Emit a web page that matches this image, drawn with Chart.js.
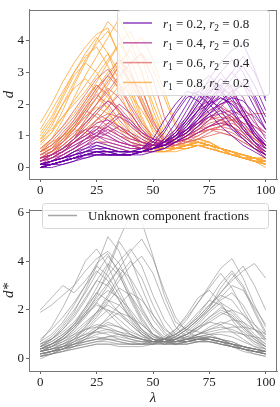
<!DOCTYPE html>
<html>
<head>
<meta charset="utf-8">
<script src="https://cdn.jsdelivr.net/npm/chart.js@4.4.0/dist/chart.umd.min.js"></script>
<style>
    html, body { margin: 0; padding: 0; background: #fff; }
    #wrap { position: relative; width: 280px; height: 407px; }
    canvas { position: absolute; left: 0; }
    #top { top: 0; }
    #bottom { top: 200px; }
</style>
</head>
<body>
<div id="wrap">
    <canvas id="top" width="280" height="200"></canvas>
    <canvas id="bottom" width="280" height="207"></canvas>
</div>
<script>
// Wavelength grid (lambda) shared by all curves
const lambdas = [0, 5, 10, 15, 20, 25, 30, 35, 40, 45, 50, 55, 60, 65, 70, 75, 80, 85, 90, 95, 100];
const xTicks = [0, 25, 50, 75, 100];
const yTicksTop = [0, 1, 2, 3, 4];
const yTicksBottom = [0, 2, 4, 6];

// Known mixing fractions
const r1Values = [0.2, 0.4, 0.6, 0.8];
const r2Values = [0.8, 0.6, 0.4, 0.2];
const seriesColors = ['106,0,168', '177,42,144', '225,100,98', '252,166,54'];

// r1 = 0.2, r2 = 0.8
const curvesR02 = [
    [0.0, 0.1, 0.2, 0.3, 0.4, 0.5, 0.5, 0.4, 0.4, 0.5, 0.6, 0.8, 1.1, 1.6, 2.2, 2.8, 3.3, 3.7, 3.9, 3.1, 2.1],
    [0.1, 0.1, 0.2, 0.3, 0.5, 0.6, 0.5, 0.5, 0.5, 0.5, 0.6, 0.9, 1.4, 2.0, 2.6, 2.9, 2.5, 1.9, 1.3, 0.8, 0.5],
    [0.0, 0.1, 0.2, 0.4, 0.6, 0.7, 0.6, 0.5, 0.5, 0.5, 0.6, 0.7, 0.9, 1.2, 1.6, 2.1, 2.6, 3.0, 2.6, 1.9, 1.2],
    [0.1, 0.2, 0.3, 0.4, 0.5, 0.5, 0.4, 0.4, 0.4, 0.5, 0.7, 1.1, 1.7, 2.2, 2.4, 2.2, 1.8, 1.3, 0.9, 0.6, 0.4],
    [0.0, 0.1, 0.1, 0.2, 0.4, 0.5, 0.5, 0.4, 0.4, 0.5, 0.5, 0.6, 0.8, 1.0, 1.3, 1.7, 2.1, 2.4, 2.6, 2.3, 1.6],
    [0.1, 0.2, 0.3, 0.5, 0.6, 0.8, 0.7, 0.6, 0.5, 0.5, 0.6, 0.7, 0.9, 1.3, 1.8, 2.3, 2.8, 2.5, 1.8, 1.2, 0.8],
    [0.0, 0.1, 0.2, 0.3, 0.4, 0.4, 0.4, 0.4, 0.4, 0.5, 0.6, 0.8, 1.0, 1.4, 1.8, 2.0, 2.2, 2.0, 1.6, 1.1, 0.7],
    [0.1, 0.1, 0.2, 0.3, 0.4, 0.5, 0.5, 0.5, 0.5, 0.6, 0.8, 1.2, 1.8, 2.3, 2.1, 1.7, 1.3, 1.0, 0.7, 0.5, 0.3],
    [0.0, 0.1, 0.2, 0.3, 0.3, 0.4, 0.4, 0.4, 0.4, 0.5, 0.6, 0.7, 0.9, 1.2, 1.5, 1.9, 2.3, 2.8, 3.2, 2.6, 1.8],
    [0.1, 0.2, 0.3, 0.4, 0.5, 0.6, 0.6, 0.5, 0.5, 0.6, 0.9, 1.5, 2.0, 2.4, 2.3, 2.0, 1.6, 1.2, 0.9, 0.6, 0.4],
    [0.0, 0.1, 0.2, 0.3, 0.4, 0.5, 0.4, 0.4, 0.4, 0.5, 0.6, 0.7, 1.0, 1.5, 2.0, 2.5, 3.0, 3.4, 3.0, 2.2, 1.4],
    [0.1, 0.1, 0.2, 0.3, 0.4, 0.5, 0.5, 0.4, 0.5, 0.5, 0.6, 0.8, 1.2, 1.8, 2.4, 2.7, 2.4, 1.8, 1.2, 0.8, 0.6],
    [0.0, 0.0, 0.1, 0.2, 0.3, 0.4, 0.4, 0.4, 0.4, 0.5, 0.6, 0.7, 0.9, 1.1, 1.4, 1.7, 2.0, 2.2, 2.1, 1.7, 1.2],
    [0.1, 0.2, 0.3, 0.4, 0.5, 0.7, 0.6, 0.5, 0.5, 0.5, 0.6, 0.8, 1.1, 1.5, 2.0, 2.4, 2.6, 2.2, 1.6, 1.0, 0.7],
    [0.0, 0.1, 0.2, 0.3, 0.4, 0.4, 0.4, 0.4, 0.4, 0.4, 0.5, 0.6, 0.8, 1.1, 1.5, 2.0, 2.5, 3.0, 3.5, 3.0, 2.2]
];

// r1 = 0.4, r2 = 0.6
const curvesR04 = [
    [0.1, 0.3, 0.5, 0.8, 1.1, 1.4, 1.5, 1.3, 1.0, 0.8, 0.7, 0.8, 1.0, 1.4, 1.8, 2.2, 2.5, 2.3, 1.8, 1.2, 0.7],
    [0.2, 0.3, 0.5, 0.7, 0.9, 1.1, 1.0, 0.8, 0.7, 0.6, 0.6, 0.7, 0.9, 1.2, 1.6, 2.0, 2.3, 2.6, 2.2, 1.5, 0.9],
    [0.1, 0.2, 0.4, 0.6, 0.9, 1.2, 1.6, 2.0, 1.7, 1.2, 0.8, 0.7, 0.8, 1.0, 1.3, 1.6, 1.8, 1.6, 1.2, 0.8, 0.4],
    [0.3, 0.4, 0.6, 0.9, 1.2, 1.0, 0.8, 0.7, 0.6, 0.6, 0.7, 0.9, 1.2, 1.6, 2.1, 2.6, 3.0, 2.5, 1.8, 1.1, 0.6],
    [0.1, 0.2, 0.3, 0.5, 0.7, 0.9, 1.1, 1.3, 1.1, 0.9, 0.7, 0.7, 0.8, 0.9, 1.1, 1.3, 1.5, 1.7, 1.8, 1.6, 1.2],
    [0.2, 0.3, 0.5, 0.8, 1.0, 1.3, 1.1, 0.9, 0.7, 0.6, 0.6, 0.8, 1.1, 1.5, 1.9, 2.1, 1.9, 1.5, 1.1, 0.7, 0.4],
    [0.0, 0.2, 0.4, 0.6, 0.8, 1.0, 1.2, 1.0, 0.8, 0.7, 0.7, 0.7, 0.8, 1.0, 1.2, 1.5, 1.9, 2.3, 2.7, 2.1, 1.4],
    [0.2, 0.4, 0.6, 0.9, 1.4, 1.8, 2.1, 1.8, 1.4, 1.0, 0.8, 0.7, 0.8, 0.9, 1.1, 1.3, 1.4, 1.3, 1.0, 0.7, 0.5],
    [0.2, 0.3, 0.4, 0.6, 0.8, 1.0, 1.3, 1.6, 1.4, 1.1, 0.9, 0.8, 0.9, 1.1, 1.5, 1.9, 2.2, 2.0, 1.6, 1.1, 0.7],
    [0.1, 0.2, 0.3, 0.5, 0.7, 0.8, 0.8, 0.7, 0.6, 0.6, 0.7, 0.8, 1.0, 1.2, 1.4, 1.6, 1.7, 1.8, 1.6, 1.3, 1.0],
    [0.1, 0.2, 0.4, 0.6, 0.9, 1.1, 1.3, 1.1, 0.9, 0.8, 0.7, 0.8, 1.0, 1.3, 1.7, 2.1, 2.4, 2.1, 1.6, 1.0, 0.6],
    [0.2, 0.4, 0.6, 0.8, 1.0, 1.2, 1.0, 0.8, 0.7, 0.6, 0.7, 0.8, 1.0, 1.2, 1.5, 1.8, 2.0, 2.1, 1.9, 1.4, 1.1],
    [0.1, 0.2, 0.3, 0.5, 0.7, 1.0, 1.4, 1.7, 1.5, 1.1, 0.9, 0.8, 1.0, 1.3, 1.8, 2.4, 2.8, 2.4, 1.7, 1.0, 0.6],
    [0.3, 0.4, 0.5, 0.7, 0.9, 1.0, 0.9, 0.8, 0.7, 0.7, 0.7, 0.8, 1.0, 1.2, 1.4, 1.7, 1.9, 1.7, 1.4, 1.0, 0.7]
];

// r1 = 0.6, r2 = 0.4
const curvesR06 = [
    [0.3, 0.5, 0.8, 1.2, 1.7, 2.2, 2.7, 3.2, 2.7, 2.0, 1.3, 0.8, 0.7, 0.8, 1.0, 1.2, 1.3, 1.2, 1.0, 0.7, 0.5],
    [0.4, 0.6, 1.0, 1.4, 1.9, 2.3, 2.0, 1.5, 1.1, 0.8, 0.7, 0.7, 0.8, 1.0, 1.2, 1.4, 1.5, 1.3, 1.0, 0.7, 0.4],
    [0.2, 0.3, 0.5, 0.8, 1.1, 1.5, 1.9, 2.3, 2.7, 2.5, 1.5, 0.8, 0.7, 0.8, 0.9, 1.1, 1.3, 1.5, 1.6, 1.7, 1.7],
    [0.5, 0.7, 1.0, 1.4, 1.8, 1.6, 1.3, 1.0, 0.8, 0.7, 0.6, 0.6, 0.7, 0.9, 1.2, 1.5, 1.7, 1.5, 1.1, 0.7, 0.4],
    [0.3, 0.4, 0.6, 0.9, 1.2, 1.5, 1.7, 1.6, 1.3, 1.0, 0.8, 0.7, 0.7, 0.9, 1.1, 1.3, 1.5, 1.6, 1.4, 1.0, 0.6],
    [0.4, 0.5, 0.8, 1.2, 1.6, 2.0, 2.4, 2.9, 3.3, 3.6, 2.8, 1.6, 0.9, 0.8, 0.9, 1.0, 1.1, 1.0, 0.8, 0.6, 0.4],
    [0.2, 0.4, 0.6, 0.9, 1.3, 1.7, 2.1, 1.9, 1.5, 1.1, 0.8, 0.7, 0.8, 1.0, 1.3, 1.6, 1.8, 1.6, 1.2, 0.8, 0.5],
    [0.3, 0.4, 0.6, 0.8, 1.0, 1.2, 1.4, 1.2, 1.0, 0.8, 0.7, 0.7, 0.8, 1.0, 1.1, 1.2, 1.1, 1.0, 0.8, 0.6, 0.3],
    [0.6, 0.9, 1.3, 1.8, 2.3, 2.8, 3.1, 2.6, 2.0, 1.4, 1.0, 0.8, 0.8, 0.9, 1.0, 1.2, 1.3, 1.4, 1.2, 0.9, 0.6],
    [0.5, 0.8, 1.2, 1.6, 2.1, 2.6, 2.3, 1.8, 1.3, 1.0, 0.8, 0.8, 0.9, 1.1, 1.4, 1.6, 1.5, 1.3, 1.1, 0.9, 0.7],
    [0.3, 0.5, 0.9, 1.3, 1.8, 2.4, 2.9, 3.4, 3.0, 2.2, 1.4, 0.9, 0.8, 0.9, 1.1, 1.3, 1.4, 1.3, 1.0, 0.7, 0.4],
    [0.4, 0.6, 0.8, 1.1, 1.4, 1.7, 1.5, 1.2, 1.0, 0.8, 0.7, 0.7, 0.9, 1.1, 1.4, 1.8, 2.0, 1.7, 1.3, 0.9, 0.6],
    [0.2, 0.4, 0.7, 1.0, 1.5, 2.0, 2.5, 2.2, 1.7, 1.2, 0.9, 0.8, 0.8, 1.0, 1.2, 1.3, 1.4, 1.5, 1.4, 1.3, 1.1],
    [0.5, 0.7, 1.1, 1.5, 2.0, 2.5, 2.9, 2.5, 1.9, 1.3, 0.9, 0.8, 0.8, 0.9, 1.1, 1.2, 1.2, 1.1, 0.9, 0.6, 0.3],
    [0.3, 0.5, 0.7, 1.0, 1.2, 1.3, 1.2, 1.0, 0.9, 0.8, 0.8, 0.8, 0.9, 1.1, 1.3, 1.5, 1.6, 1.5, 1.3, 1.0, 0.7]
];

// r1 = 0.8, r2 = 0.2
const curvesR08 = [
    [0.5, 0.9, 1.5, 2.2, 2.9, 3.5, 4.1, 4.7, 4.0, 3.0, 1.8, 0.9, 0.6, 0.7, 0.8, 0.7, 0.6, 0.5, 0.4, 0.3, 0.2],
    [0.8, 1.3, 2.0, 2.7, 3.4, 3.9, 4.3, 3.6, 2.6, 1.6, 0.9, 0.6, 0.6, 0.7, 0.8, 0.8, 0.6, 0.5, 0.4, 0.3, 0.3],
    [1.2, 1.8, 2.4, 3.0, 3.5, 3.8, 3.2, 2.4, 1.6, 1.0, 0.7, 0.6, 0.6, 0.8, 0.9, 0.8, 0.6, 0.5, 0.4, 0.3, 0.2],
    [0.3, 0.4, 0.7, 1.0, 1.5, 2.0, 2.6, 3.2, 3.8, 4.1, 3.4, 2.4, 1.4, 0.9, 0.8, 0.7, 0.6, 0.5, 0.4, 0.3, 0.2],
    [0.9, 1.4, 2.0, 2.5, 2.8, 2.4, 1.8, 1.2, 0.8, 0.6, 0.5, 0.5, 0.6, 0.7, 0.8, 0.7, 0.6, 0.5, 0.4, 0.3, 0.3],
    [0.3, 0.5, 0.8, 1.3, 1.9, 2.5, 3.0, 3.4, 2.9, 2.1, 1.3, 0.8, 0.6, 0.7, 0.8, 0.7, 0.6, 0.4, 0.3, 0.2, 0.1],
    [0.4, 0.6, 0.9, 1.3, 1.8, 2.2, 1.9, 1.4, 1.0, 0.7, 0.6, 0.5, 0.6, 0.7, 0.7, 0.6, 0.5, 0.4, 0.3, 0.2, 0.2],
    [0.3, 0.4, 0.6, 0.8, 1.1, 1.4, 1.6, 1.3, 1.0, 0.7, 0.5, 0.5, 0.5, 0.6, 0.7, 0.6, 0.5, 0.4, 0.3, 0.2, 0.1],
    [0.5, 0.6, 0.9, 1.2, 1.7, 2.2, 2.8, 3.3, 3.7, 3.0, 2.0, 1.1, 0.7, 0.7, 0.8, 0.7, 0.6, 0.5, 0.3, 0.3, 0.2],
    [0.6, 0.8, 1.0, 1.2, 1.1, 0.9, 0.7, 0.6, 0.5, 0.5, 0.5, 0.5, 0.6, 0.6, 0.7, 0.6, 0.5, 0.4, 0.3, 0.2, 0.0],
    [1.4, 2.0, 2.7, 3.3, 3.8, 4.2, 4.4, 3.5, 2.4, 1.5, 0.9, 0.6, 0.6, 0.7, 0.9, 0.8, 0.6, 0.5, 0.4, 0.3, 0.2],
    [0.2, 0.3, 0.5, 0.8, 1.1, 1.5, 1.9, 2.4, 2.9, 2.4, 1.6, 1.0, 0.6, 0.6, 0.7, 0.6, 0.5, 0.4, 0.3, 0.2, 0.1],
    [0.7, 1.1, 1.8, 2.6, 3.3, 4.0, 4.6, 4.2, 3.1, 2.0, 1.1, 0.7, 0.6, 0.7, 0.8, 0.7, 0.6, 0.4, 0.4, 0.2, 0.2],
    [1.0, 1.5, 2.2, 2.9, 3.3, 3.0, 2.4, 1.7, 1.1, 0.8, 0.6, 0.6, 0.6, 0.7, 0.8, 0.7, 0.6, 0.5, 0.3, 0.3, 0.2],
    [0.4, 0.6, 1.0, 1.5, 2.1, 2.7, 3.3, 3.9, 3.4, 2.5, 1.5, 0.9, 0.6, 0.7, 0.7, 0.7, 0.5, 0.4, 0.3, 0.2, 0.1],
    [0.6, 0.9, 1.3, 1.7, 2.2, 2.6, 2.2, 1.7, 1.2, 0.9, 0.7, 0.6, 0.6, 0.7, 0.8, 0.7, 0.6, 0.5, 0.4, 0.3, 0.2],
    [0.8, 1.1, 1.6, 2.1, 2.6, 3.1, 3.6, 3.0, 2.2, 1.4, 0.9, 0.6, 0.6, 0.6, 0.7, 0.7, 0.6, 0.4, 0.3, 0.2, 0.2],
    [0.3, 0.5, 0.7, 1.0, 1.4, 1.8, 2.3, 2.8, 3.3, 3.6, 3.1, 2.2, 1.3, 0.8, 0.8, 0.7, 0.6, 0.4, 0.3, 0.3, 0.1],
    [0.5, 0.7, 1.0, 1.3, 1.6, 1.9, 1.7, 1.3, 1.0, 0.8, 0.6, 0.5, 0.6, 0.7, 0.8, 0.7, 0.6, 0.5, 0.3, 0.2, 0.2],
    [1.1, 1.6, 2.3, 3.0, 3.6, 4.1, 3.6, 2.7, 1.8, 1.1, 0.8, 0.6, 0.6, 0.7, 0.9, 0.8, 0.6, 0.5, 0.4, 0.3, 0.2],
    [0.2, 0.4, 0.6, 0.9, 1.3, 1.7, 2.1, 2.6, 2.3, 1.8, 1.2, 0.8, 0.6, 0.6, 0.7, 0.6, 0.5, 0.4, 0.3, 0.2, 0.1],
    [0.9, 1.2, 1.6, 2.0, 2.4, 2.9, 3.4, 3.9, 4.3, 3.5, 2.3, 1.3, 0.8, 0.7, 0.8, 0.7, 0.6, 0.5, 0.4, 0.3, 0.2]
];

// Unknown component fractions
const curvesUnknown = [
    [0.4, 0.6, 0.9, 1.4, 2.1, 2.9, 3.8, 4.9, 5.9, 5.6, 4.2, 2.6, 1.5, 1.2, 1.1, 1.0, 0.8, 0.6, 0.5, 0.4, 0.3],
    [1.9, 2.2, 2.6, 3.0, 3.6, 4.1, 4.4, 3.9, 3.0, 2.0, 1.3, 0.9, 0.7, 0.7, 0.8, 0.8, 0.7, 0.6, 0.5, 0.4, 0.3],
    [2.0, 2.5, 3.0, 2.7, 3.2, 3.8, 3.4, 2.6, 1.8, 1.2, 0.8, 0.7, 0.7, 0.8, 0.9, 0.8, 0.7, 0.6, 0.5, 0.4, 0.3],
    [0.7, 1.3, 2.1, 3.0, 4.0, 4.5, 3.8, 2.8, 1.9, 1.2, 0.8, 0.6, 0.6, 0.7, 0.8, 0.8, 0.7, 0.5, 0.4, 0.3, 0.3],
    [0.5, 0.8, 1.3, 1.9, 2.8, 3.8, 5.0, 4.4, 3.2, 2.1, 1.3, 0.8, 0.6, 0.6, 0.7, 0.7, 0.6, 0.5, 0.4, 0.3, 0.2],
    [0.3, 0.5, 0.8, 1.2, 1.8, 2.6, 3.6, 4.8, 4.1, 2.9, 1.8, 1.1, 0.7, 0.7, 0.8, 0.8, 0.6, 0.5, 0.4, 0.3, 0.3],
    [0.1, 0.2, 0.3, 0.4, 0.5, 0.6, 0.6, 0.5, 0.5, 0.5, 0.6, 0.8, 1.1, 1.6, 2.3, 3.0, 3.7, 4.1, 3.3, 2.2, 1.3],
    [0.2, 0.3, 0.4, 0.6, 0.8, 0.9, 0.8, 0.7, 0.6, 0.6, 0.7, 0.8, 1.0, 1.3, 1.7, 2.2, 2.7, 3.2, 3.6, 3.9, 3.3],
    [0.3, 0.4, 0.6, 0.8, 1.0, 1.1, 1.0, 0.8, 0.7, 0.6, 0.6, 0.8, 1.2, 1.8, 2.5, 2.8, 2.3, 1.6, 1.0, 0.6, 0.4],
    [0.2, 0.3, 0.4, 0.5, 0.6, 0.7, 0.7, 0.6, 0.6, 0.6, 0.7, 0.9, 1.2, 1.7, 2.3, 2.9, 3.5, 2.9, 2.0, 1.2, 0.7],
    [0.3, 0.4, 0.5, 0.6, 0.7, 0.8, 0.8, 0.7, 0.6, 0.6, 0.6, 0.6, 0.7, 0.8, 0.9, 0.9, 0.8, 0.7, 0.5, 0.4, 0.3],
    [0.5, 0.8, 1.2, 1.8, 2.5, 3.2, 3.0, 2.4, 1.7, 1.1, 0.8, 0.7, 0.8, 1.0, 1.3, 1.5, 1.4, 1.1, 0.8, 0.5, 0.3],
    [0.2, 0.3, 0.5, 0.8, 1.2, 1.7, 2.3, 2.9, 2.6, 1.9, 1.2, 0.8, 0.8, 1.0, 1.3, 1.7, 2.0, 1.8, 1.3, 0.8, 0.5],
    [0.4, 0.6, 0.9, 1.3, 1.8, 2.2, 2.0, 1.6, 1.2, 0.9, 0.7, 0.7, 0.8, 1.1, 1.5, 2.0, 2.4, 2.7, 2.2, 1.4, 0.8],
    [0.6, 0.9, 1.4, 2.0, 2.7, 3.5, 4.2, 3.6, 2.6, 1.7, 1.0, 0.7, 0.6, 0.6, 0.7, 0.7, 0.6, 0.5, 0.4, 0.3, 0.2],
    [0.1, 0.2, 0.4, 0.6, 0.9, 1.2, 1.5, 1.3, 1.0, 0.8, 0.6, 0.7, 0.9, 1.2, 1.6, 2.0, 2.5, 3.0, 2.8, 2.1, 1.4],
    [0.3, 0.5, 0.7, 1.0, 1.4, 1.9, 2.5, 3.2, 3.8, 4.2, 3.5, 2.3, 1.3, 0.9, 0.8, 0.8, 0.7, 0.6, 0.5, 0.3, 0.2],
    [0.8, 1.2, 1.7, 2.3, 3.0, 3.6, 3.2, 2.4, 1.6, 1.0, 0.7, 0.6, 0.6, 0.7, 0.8, 0.8, 0.7, 0.6, 0.4, 0.3, 0.2],
    [0.2, 0.3, 0.4, 0.6, 0.8, 1.0, 1.1, 1.0, 0.8, 0.7, 0.7, 0.8, 1.0, 1.4, 1.9, 2.4, 2.2, 1.7, 1.2, 0.8, 0.5],
    [0.4, 0.5, 0.7, 0.9, 1.2, 1.4, 1.3, 1.1, 0.9, 0.8, 0.7, 0.7, 0.8, 0.9, 1.0, 1.1, 1.2, 1.3, 1.3, 1.2, 1.0],
    [0.0, 0.2, 0.4, 0.7, 1.1, 1.6, 2.0, 1.8, 1.4, 1.0, 0.7, 0.6, 0.6, 0.7, 0.8, 0.9, 0.8, 0.6, 0.4, 0.2, 0.1],
    [0.5, 0.7, 1.0, 1.4, 2.0, 2.7, 3.4, 4.0, 4.5, 3.8, 2.6, 1.6, 1.0, 0.8, 0.8, 0.7, 0.6, 0.5, 0.4, 0.3, 0.2],
    [0.3, 0.4, 0.5, 0.7, 0.9, 1.1, 1.2, 1.1, 1.0, 0.8, 0.7, 0.8, 1.0, 1.3, 1.8, 2.4, 3.1, 3.6, 3.0, 2.0, 1.1],
    [0.6, 0.8, 1.1, 1.5, 2.1, 2.7, 2.4, 1.9, 1.4, 1.0, 0.8, 0.7, 0.7, 0.9, 1.2, 1.6, 1.9, 1.7, 1.3, 0.9, 0.6],
    [0.1, 0.2, 0.3, 0.4, 0.5, 0.6, 0.6, 0.6, 0.6, 0.6, 0.6, 0.6, 0.7, 0.8, 1.0, 1.2, 1.4, 1.6, 1.5, 1.2, 0.9],
    [0.4, 0.6, 0.9, 1.3, 1.9, 2.5, 3.1, 3.7, 3.3, 2.5, 1.6, 1.0, 0.7, 0.7, 0.8, 0.9, 0.8, 0.7, 0.5, 0.4, 0.3],
    [0.3, 0.5, 0.8, 1.2, 1.7, 2.3, 3.0, 3.7, 4.4, 4.9, 4.1, 2.8, 1.7, 1.1, 0.9, 0.8, 0.7, 0.6, 0.5, 0.4, 0.3],
    [0.5, 0.7, 1.0, 1.4, 1.9, 2.4, 2.8, 2.5, 2.0, 1.4, 1.0, 0.8, 0.7, 0.8, 1.0, 1.2, 1.3, 1.2, 1.0, 0.7, 0.5],
    [0.2, 0.3, 0.4, 0.5, 0.6, 0.7, 0.8, 0.8, 0.7, 0.7, 0.7, 0.8, 1.0, 1.3, 1.7, 2.2, 2.6, 2.4, 1.8, 1.2, 0.8],
    [0.6, 0.8, 1.2, 1.7, 2.4, 3.2, 3.9, 3.4, 2.5, 1.6, 1.0, 0.7, 0.6, 0.7, 0.8, 0.9, 0.8, 0.6, 0.5, 0.4, 0.3],
    [0.2, 0.3, 0.4, 0.5, 0.7, 0.8, 0.9, 0.9, 0.8, 0.7, 0.6, 0.7, 0.9, 1.2, 1.6, 2.1, 2.7, 3.3, 3.8, 3.0, 2.0],
    [0.4, 0.5, 0.6, 0.8, 1.0, 1.3, 1.6, 1.9, 1.7, 1.4, 1.0, 0.8, 0.7, 0.8, 0.9, 1.0, 1.0, 0.9, 0.7, 0.5, 0.4],
    [0.3, 0.4, 0.6, 0.9, 1.3, 1.8, 2.4, 2.2, 1.7, 1.2, 0.9, 0.8, 0.8, 1.0, 1.4, 1.9, 2.3, 2.0, 1.5, 1.0, 0.6],
    [0.1, 0.3, 0.5, 0.8, 1.3, 1.9, 2.6, 3.4, 4.0, 3.3, 2.2, 1.3, 0.8, 0.7, 0.7, 0.7, 0.6, 0.5, 0.3, 0.2, 0.1],
    [0.5, 0.6, 0.8, 1.0, 1.2, 1.3, 1.2, 1.0, 0.9, 0.8, 0.7, 0.7, 0.7, 0.8, 0.9, 1.0, 1.1, 1.1, 1.0, 0.9, 0.8],
    [0.4, 0.6, 0.9, 1.3, 1.8, 2.3, 1.9, 1.4, 1.0, 0.8, 0.7, 0.7, 0.8, 1.0, 1.3, 1.7, 2.1, 1.9, 1.4, 0.9, 0.5],
    [0.2, 0.3, 0.5, 0.7, 0.9, 1.2, 1.4, 1.3, 1.1, 0.9, 0.8, 0.8, 0.9, 1.2, 1.6, 2.1, 2.9, 3.5, 2.9, 1.9, 1.0],
    [0.7, 1.0, 1.5, 2.2, 3.0, 3.9, 4.3, 3.5, 2.4, 1.5, 0.9, 0.7, 0.6, 0.6, 0.7, 0.8, 0.7, 0.5, 0.4, 0.3, 0.2],
    [0.3, 0.4, 0.5, 0.6, 0.7, 0.8, 0.9, 1.0, 0.9, 0.8, 0.7, 0.7, 0.8, 1.0, 1.2, 1.5, 1.8, 2.0, 1.8, 1.4, 1.0],
    [0.1, 0.2, 0.3, 0.5, 0.8, 1.2, 1.7, 2.2, 2.7, 2.4, 1.8, 1.2, 0.9, 0.8, 0.8, 0.8, 0.7, 0.6, 0.4, 0.3, 0.2],
    [0.4, 0.6, 0.8, 1.1, 1.5, 1.9, 2.2, 1.9, 1.5, 1.1, 0.8, 0.7, 0.7, 0.8, 1.0, 1.3, 1.5, 1.4, 1.1, 0.7, 0.4]
];

const serif = "'Liberation Serif', 'DejaVu Serif', serif";

function toPoints(curve) {
    return lambdas.map((x, i) => ({ x: x, y: curve[i] }));
}

function lineSet(curves, color) {
    return curves.map(c => ({
        data: toPoints(c),
        borderColor: color,
        borderWidth: 1,
        pointRadius: 0,
        tension: 0,
        fill: false
    }));
}

// draws text with italic letters and subscripts
function drawRich(ctx, parts, x, y, size) {
    parts.forEach(p => {
        const sub = p.s === 'sub';
        const fs = sub ? size * 0.72 : size;
        ctx.font = (p.s === 'i' ? 'italic ' : '') + fs + 'px ' + serif;
        ctx.textBaseline = 'alphabetic';
        ctx.fillText(p.t, x, y + (sub ? 3 : 0));
        x += ctx.measureText(p.t).width;
    });
}

// full box around the plot area (Chart.js only draws the left and bottom borders)
const frame = {
    id: 'frame',
    beforeDatasetsDraw(chart) {
        const a = chart.chartArea, ctx = chart.ctx;
        ctx.save();
        ctx.strokeStyle = '#777';
        ctx.lineWidth = 1;
        ctx.strokeRect(Math.round(a.left) + 0.5, Math.round(a.top) + 0.5,
            Math.round(a.right - a.left) - 1, Math.round(a.bottom - a.top));
        ctx.restore();
    }
};

const boxLegend = {
    id: 'boxLegend',
    afterDatasetsDraw(chart, args, o) {
        const ctx = chart.ctx;
        ctx.save();
        ctx.beginPath();
        ctx.roundRect(o.x + 0.5, o.y + 0.5, o.w, o.h, 3);
        ctx.fillStyle = 'rgba(255,255,255,0.8)';
        ctx.fill();
        ctx.strokeStyle = '#d6d6d6';
        ctx.lineWidth = 1;
        ctx.stroke();
        o.items.forEach((it, i) => {
            const y = o.y + o.first + i * o.step;
            ctx.beginPath();
            ctx.moveTo(o.x + 6, y);
            ctx.lineTo(o.x + 35, y);
            ctx.strokeStyle = it.color;
            ctx.lineWidth = 1.5;
            ctx.stroke();
            ctx.fillStyle = '#222';
            drawRich(ctx, it.parts, o.x + o.textX, y + 4.5, 13);
        });
        ctx.restore();
    }
};

function scales(yMin, yMax, yTicks, yTitle, xHeight, showXTitle) {
    const tickFont = { family: serif, size: 13 };
    return {
        x: {
            type: 'linear',
            min: -5,
            max: 105,
            afterBuildTicks: s => { s.ticks = xTicks.map(v => ({ value: v })); },
            afterFit: s => { s.height = xHeight; },
            ticks: { font: tickFont, color: '#222', padding: 1, maxRotation: 0 },
            grid: { display: true, drawOnChartArea: false, drawTicks: true, tickLength: 3, color: '#666' },
            border: { display: true, color: '#777', width: 1 },
            title: { display: showXTitle, text: 'λ', font: { family: serif, size: 15, style: 'italic' }, color: '#222', padding: { top: -1, bottom: 0 } }
        },
        y: {
            type: 'linear',
            min: yMin,
            max: yMax,
            afterBuildTicks: s => { s.ticks = yTicks.map(v => ({ value: v })); },
            afterFit: s => { s.width = 29; },
            ticks: { font: tickFont, color: '#222', padding: 2 },
            grid: { display: true, drawOnChartArea: false, drawTicks: true, tickLength: 3, color: '#666' },
            border: { display: true, color: '#777', width: 1 },
            title: { display: true, text: yTitle, font: { family: serif, size: 15, style: 'italic' }, color: '#222', padding: { top: 0, bottom: 0 } }
        }
    };
}

// Top panel: known fractions
const topSets = []
    .concat(lineSet(curvesR02, 'rgba(' + seriesColors[0] + ',0.8)'))
    .concat(lineSet(curvesR04, 'rgba(' + seriesColors[1] + ',0.8)'))
    .concat(lineSet(curvesR06, 'rgba(' + seriesColors[2] + ',0.8)'))
    .concat(lineSet(curvesR08, 'rgba(' + seriesColors[3] + ',0.8)'));

new Chart(document.getElementById('top'), {
    type: 'line',
    data: { datasets: topSets },
    options: {
        responsive: false,
        animation: false,
        devicePixelRatio: 1,
        layout: { padding: { top: 3, right: 3, left: 0, bottom: 0 } },
        plugins: {
            legend: { display: false },
            tooltip: { enabled: false },
            boxLegend: {
                x: 117, y: 10, w: 152, h: 85, first: 13, step: 19.8, textX: 46,
                items: r1Values.map((r1, i) => ({
                    color: 'rgba(' + seriesColors[i] + ',0.75)',
                    parts: [
                        { t: 'r', s: 'i' }, { t: '1', s: 'sub' }, { t: ' = ' + r1.toFixed(1) + ', ' },
                        { t: 'r', s: 'i' }, { t: '2', s: 'sub' }, { t: ' = ' + r2Values[i].toFixed(1) }
                    ]
                }))
            }
        },
        scales: scales(-0.36, 4.97, yTicksTop, 'd', 21, false)
    },
    plugins: [frame, boxLegend]
});

// Bottom panel: unknown fractions
new Chart(document.getElementById('bottom'), {
    type: 'line',
    data: { datasets: lineSet(curvesUnknown, 'rgba(128,128,128,0.55)') },
    options: {
        responsive: false,
        animation: false,
        devicePixelRatio: 1,
        layout: { padding: { top: 2, right: 3, left: 0, bottom: 0 } },
        plugins: {
            legend: { display: false },
            tooltip: { enabled: false },
            boxLegend: {
                x: 42, y: 3, w: 226, h: 25, first: 12.5, step: 20, textX: 46,
                items: [{ color: 'rgba(128,128,128,0.7)', parts: [{ t: 'Unknown component fractions' }] }]
            }
        },
        scales: scales(-0.5, 6.1, yTicksBottom, 'd*', 36, true)
    },
    plugins: [frame, boxLegend]
});
</script>
</body>
</html>
